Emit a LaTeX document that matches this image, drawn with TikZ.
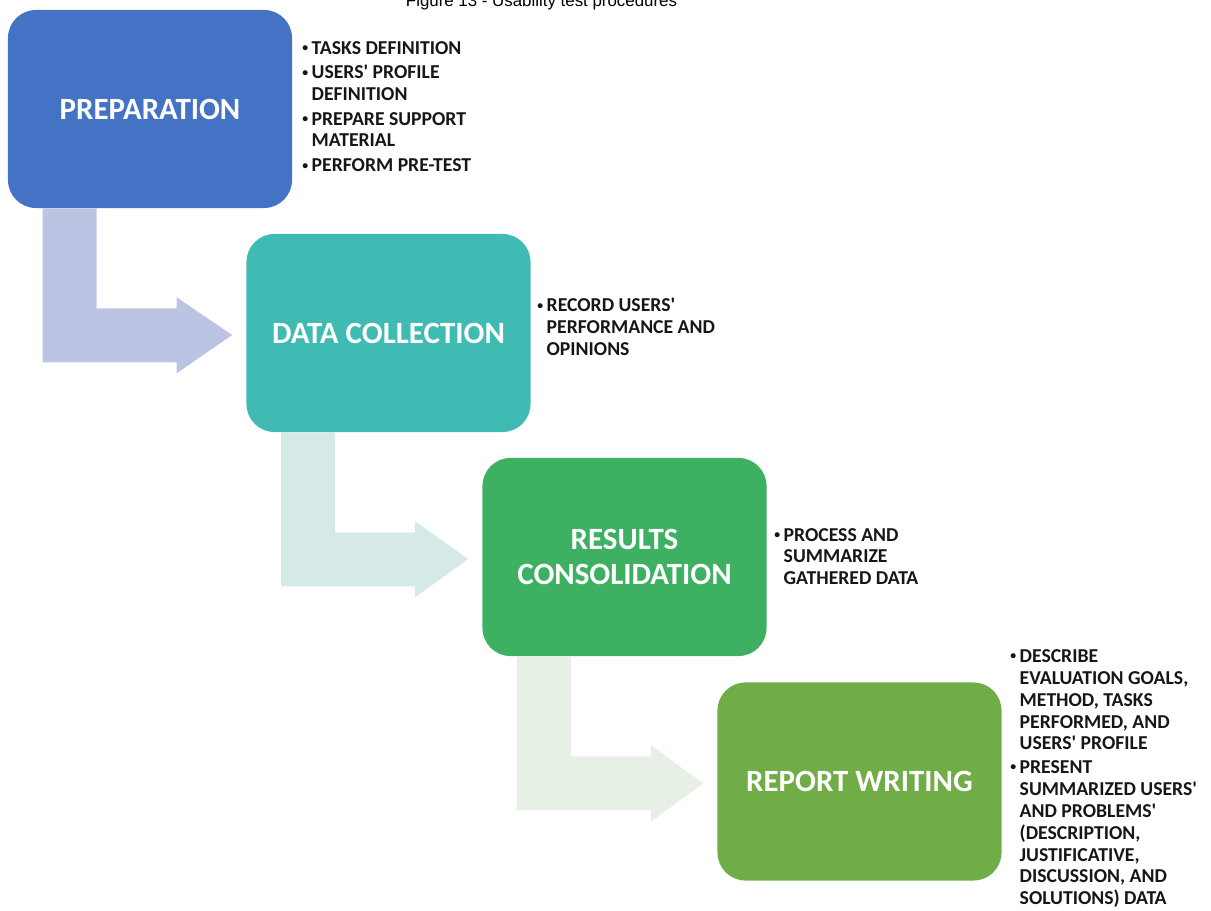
\documentclass[tikz,border=0pt]{standalone}
\usepackage{fontspec}
\setmainfont{Carlito}[Ligatures=TeXOff]
\newfontfamily\titlefont{Liberation Sans}
\usetikzlibrary{calc}

\definecolor{prepblue}{HTML}{4472C4}
\definecolor{collectteal}{HTML}{3FBBB3}
\definecolor{consolgreen}{HTML}{3DB062}
\definecolor{reportgreen}{HTML}{70AD47}
\definecolor{arrowone}{HTML}{BBC5E3}
\definecolor{arrowtwo}{HTML}{D5EAE6}
\definecolor{arrowthree}{HTML}{E7F0E5}
\definecolor{notegray}{HTML}{161616}

\newcommand{\bul}{\raisebox{0.25ex}{\scalebox{0.6}{\textbullet}}\kern2.5pt}
\newcommand{\ind}{\hphantom{\bul}}

\begin{document}
\begin{tikzpicture}[x=0.025cm,y=-0.025cm,
    stage/.style={rectangle,rounded corners=0.7cm,minimum width=7.1cm,minimum height=4.95cm,
        inner sep=0pt,align=center,text=white,font=\bfseries\fontsize{22}{25}\selectfont},
    note/.style={anchor=north west,align=left,inner sep=0pt,text=notegray,
        font=\bfseries\fontsize{14}{15.5}\selectfont}]

            \useasboundingbox (0,0) rectangle (1211,911);

            % Title, cut by the top edge
            \node [anchor=base west,font=\titlefont\fontsize{12}{14}\selectfont] (title) at (401,7)
                {Figure 13 - Usability test procedures};

            % The four stages
            \node [stage,fill=prepblue] (prep) at (150,109) {PREPARATION};
            \node [stage,fill=collectteal] (collect) at (388.5,333) {DATA COLLECTION};
            \node [stage,fill=consolgreen] (consol) at (624.5,557) {RESULTS\\CONSOLIDATION};
            \node [stage,fill=reportgreen] (report) at (859.5,781.5) {REPORT WRITING};

            % Bent arrows from one stage to the next
            \foreach \from/\to/\col in {prep/collect/arrowone,collect/consol/arrowtwo,consol/report/arrowthree} {
            \fill [\col] ($(\from.south west)+(35,0)$) -- ++(54,0) -- ++(0,100) -- ++(80,0) -- ++(0,-11)
                -- ($(\to.west)+(-14,2)$) -- ($(\from.south west)+(169,165)$) -- ++(0,-11) -- ++(-134,0) -- cycle;
            }

            % Notes beside each stage
            \node [note] (prepnote) at (302,41) {\bul TASKS DEFINITION\\[2pt]
                \bul USERS' PROFILE\\ \ind DEFINITION\\[2pt]
                \bul PREPARE SUPPORT\\ \ind MATERIAL\\[2pt]
                \bul PERFORM PRE-TEST};
            \node [note] (collectnote) at (537,298) {\bul RECORD USERS'\\
                \ind PERFORMANCE AND\\ \ind OPINIONS};
            \node [note] (consolnote) at (774,528) {\bul PROCESS AND\\
                \ind SUMMARIZE\\ \ind GATHERED DATA};
            \node [note,font=\bfseries\fontsize{14}{15.6}\selectfont] (reportnote) at (1010,649) {\bul DESCRIBE\\
                \ind EVALUATION GOALS,\\ \ind METHOD, TASKS\\ \ind PERFORMED, AND\\ \ind USERS' PROFILE\\[1pt]
                \bul PRESENT\\ \ind SUMMARIZED USERS'\\ \ind AND PROBLEMS'\\ \ind (DESCRIPTION,\\
                \ind JUSTIFICATIVE,\\ \ind DISCUSSION, AND\\ \ind SOLUTIONS) DATA};

        \end{tikzpicture}
\end{document}
